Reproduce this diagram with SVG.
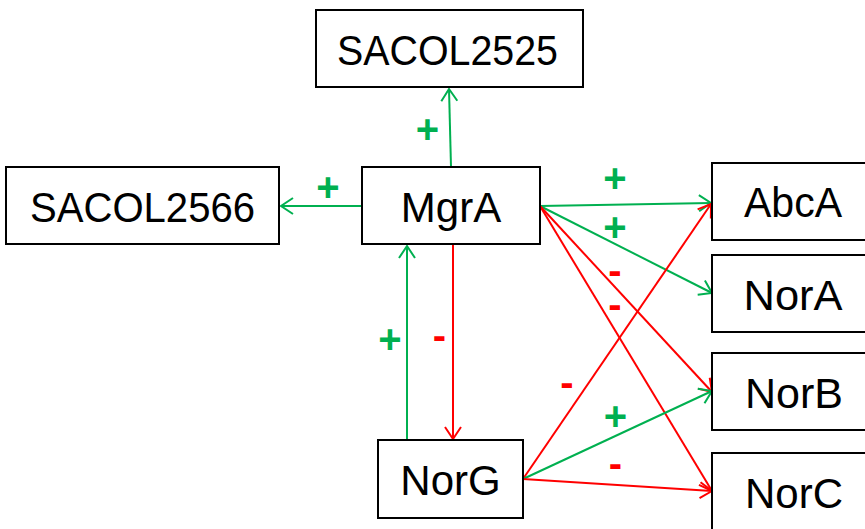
<svg xmlns="http://www.w3.org/2000/svg" width="865" height="529" viewBox="0 0 865 529">
<style>
.box{fill:#fff;stroke:#000;stroke-width:2}
.t{font-family:"Liberation Sans",Arial,sans-serif;font-size:42px;fill:#000;text-anchor:middle}
.g{stroke:#00B050;stroke-width:2;fill:none}
.r{stroke:#FF0000;stroke-width:2;fill:none}
.lg{font-family:"Liberation Sans",Arial,sans-serif;font-size:40px;font-weight:bold;fill:#00B050;text-anchor:middle}
.lr{font-family:"Liberation Sans",Arial,sans-serif;font-size:40px;font-weight:bold;fill:#FF0000;text-anchor:middle}
</style>
<defs>
<marker id="ag" markerUnits="userSpaceOnUse" markerWidth="20" markerHeight="20" refX="14" refY="10" orient="auto" overflow="visible">
<path d="M2,2 L14,10 L2,18" fill="none" stroke="#00B050" stroke-width="2"/>
</marker>
<marker id="ar" markerUnits="userSpaceOnUse" markerWidth="20" markerHeight="20" refX="14" refY="10" orient="auto" overflow="visible">
<path d="M2,2 L14,10 L2,18" fill="none" stroke="#FF0000" stroke-width="2"/>
</marker>
</defs>
<g id="connectors">
<line class="g" x1="451" y1="167" x2="449" y2="89" marker-end="url(#ag)"/>
<line class="g" x1="362" y1="206" x2="281" y2="206" marker-end="url(#ag)"/>
<line class="g" x1="407" y1="440" x2="407" y2="246" marker-end="url(#ag)"/>
<line class="r" x1="453" y1="245" x2="453" y2="439" marker-end="url(#ar)"/>
<line class="g" x1="540" y1="206" x2="711" y2="203" marker-end="url(#ag)"/>
<line class="g" x1="540" y1="206" x2="712" y2="293" marker-end="url(#ag)"/>
<line class="r" x1="540" y1="206" x2="712" y2="392" marker-end="url(#ar)"/>
<line class="r" x1="540" y1="206" x2="712" y2="491" marker-end="url(#ar)"/>
<line class="r" x1="523" y1="479" x2="711" y2="204" marker-end="url(#ar)"/>
<line class="g" x1="523" y1="479" x2="712" y2="391" marker-end="url(#ag)"/>
<line class="r" x1="523" y1="479" x2="712" y2="491" marker-end="url(#ar)"/>
</g>
<g id="labels">
<text class="lg" x="427.5" y="143">+</text>
<text class="lg" x="328" y="201">+</text>
<text class="lg" x="615" y="192">+</text>
<text class="lg" x="615" y="241">+</text>
<text class="lr" x="615" y="284">-</text>
<text class="lr" x="615" y="318">-</text>
<text class="lg" x="390" y="353">+</text>
<text class="lr" x="439.5" y="349">-</text>
<text class="lr" x="567" y="396">-</text>
<text class="lg" x="615.5" y="430">+</text>
<text class="lr" x="615.5" y="477">-</text>
</g>
<g id="SACOL2525"><rect class="box" x="316" y="10" width="267" height="77"/><text class="t" x="447.5" y="65" textLength="221" lengthAdjust="spacingAndGlyphs">SACOL2525</text></g>
<g id="SACOL2566"><rect class="box" x="6" y="167" width="273" height="77"/><text class="t" x="142.5" y="222" textLength="225" lengthAdjust="spacingAndGlyphs">SACOL2566</text></g>
<g id="MgrA"><rect class="box" x="362" y="167" width="178" height="77"/><text class="t" x="451" y="222">MgrA</text></g>
<g id="NorG"><rect class="box" x="378" y="440" width="145" height="78"/><text class="t" x="450.5" y="495">NorG</text></g>
<g id="AbcA"><rect class="box" x="712" y="163" width="160" height="77"/><text class="t" x="793" y="217" textLength="98" lengthAdjust="spacingAndGlyphs">AbcA</text></g>
<g id="NorA"><rect class="box" x="712" y="255" width="160" height="77"/><text class="t" x="793" y="310" textLength="99" lengthAdjust="spacingAndGlyphs">NorA</text></g>
<g id="NorB"><rect class="box" x="712" y="353" width="160" height="77"/><text class="t" x="794" y="408" textLength="98" lengthAdjust="spacingAndGlyphs">NorB</text></g>
<g id="NorC"><rect class="box" x="712" y="453" width="160" height="80"/><text class="t" x="794" y="508" textLength="98" lengthAdjust="spacingAndGlyphs">NorC</text></g>
</svg>
